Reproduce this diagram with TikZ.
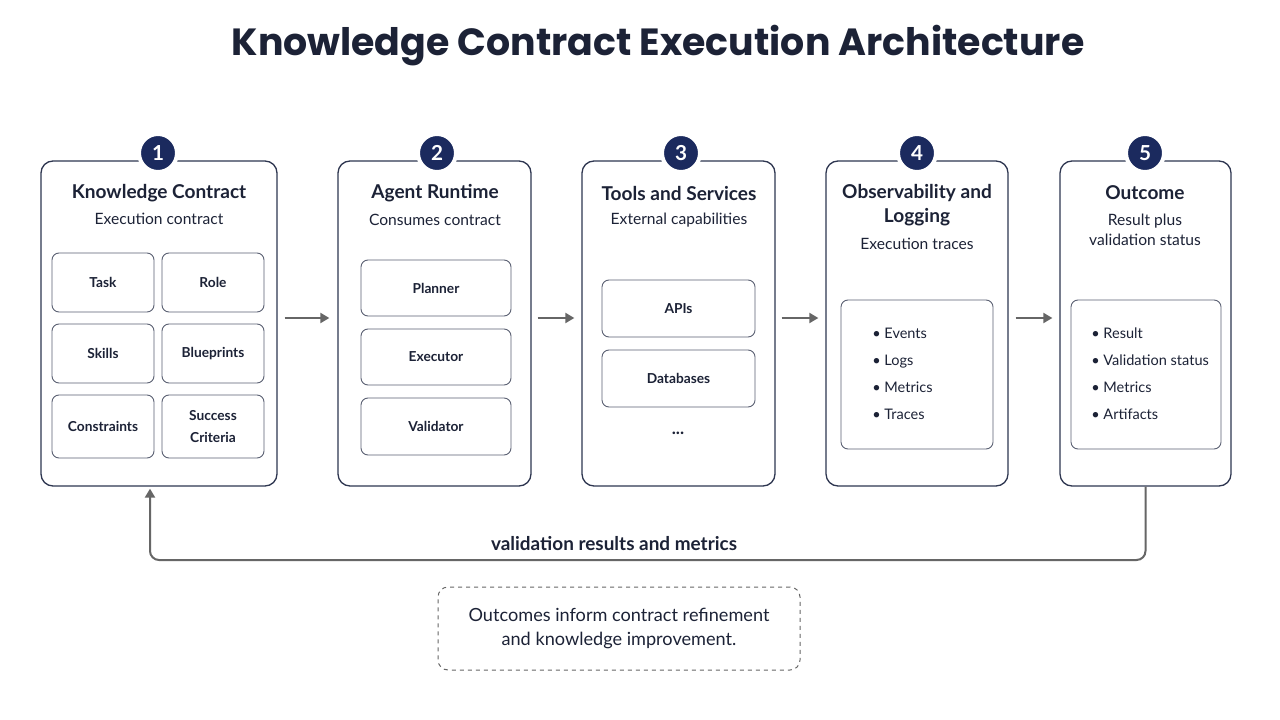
\documentclass[tikz,border=0pt]{standalone}
\usepackage{fontspec}
\setmainfont{Lato}
\newfontfamily\titlefont{Poppins}
\usetikzlibrary{arrows.meta,positioning}
\definecolor{ink}{HTML}{1C2236}
\definecolor{navy}{HTML}{1B2A5E}
\definecolor{edge}{HTML}{2E3650}
\definecolor{inner}{HTML}{5A6072}
\definecolor{arr}{HTML}{666666}
\def\u{0.75pt}
\tikzset{
  stage/.style={draw=edge, line width=1.3*\u, rounded corners=12*\u, fill=white, inner sep=0pt},
  item/.style={draw=inner, line width=0.9*\u, rounded corners=7*\u, fill=white, text=ink, font=\fontsize{10.3}{13}\selectfont\bfseries, align=center, inner sep=0pt},
  badge/.style={circle, fill=navy, draw=white, line width=4*\u, minimum size=38*\u, inner sep=0pt, text=white, font=\fontsize{15.5}{15}\selectfont\bfseries},
  stitle/.style={text=ink, font=\fontsize{14.3}{18}\selectfont\bfseries, align=center},
  ssub/.style={text=ink, font=\fontsize{11.7}{15}\selectfont, align=center},
  blist/.style={text=ink, font=\fontsize{10.9}{20.25}\selectfont, align=left, anchor=west, inner sep=0pt},
  flow/.style={draw=arr, line width=2*\u, -{Triangle[length=9*\u,width=10*\u]}},
}
\begin{document}
\begin{tikzpicture}[x=0.75pt,y=-0.75pt]
\useasboundingbox (0,0) rectangle (1280,720);
\fill[white] (0,0) rectangle (1280,720);

\node[text=ink, font=\titlefont\fontsize{28.4}{30}\selectfont\bfseries] (title) at (658,46) {Knowledge Contract Execution Architecture};

% stage boxes
\node[stage, minimum width=236*\u, minimum height=325*\u] (kc) at (159,323.5) {};
\node[stage, minimum width=193*\u, minimum height=325*\u] (ar) at (434.5,323.5) {};
\node[stage, minimum width=193*\u, minimum height=325*\u] (ts) at (678.5,323.5) {};
\node[stage, minimum width=182*\u, minimum height=325*\u] (ob) at (917,323.5) {};
\node[stage, minimum width=171*\u, minimum height=325*\u] (oc) at (1145.5,323.5) {};

% badges
\node[badge] (b1) at (158,153) {1};
\node[badge] (b2) at (437,153) {2};
\node[badge] (b3) at (681,153) {3};
\node[badge] (b4) at (917,153) {4};
\node[badge] (b5) at (1145,153) {5};

% titles
\node[stitle] (t1) at (159,193) {Knowledge Contract};
\node[ssub] (s1) at (159,219) {Execution contract};
\node[stitle] (t2) at (435,193) {Agent Runtime};
\node[ssub] (s2) at (435,220) {Consumes contract};
\node[stitle] (t3) at (679,193) {Tools and Services};
\node[ssub] (s3) at (679,220) {External capabilities};
\node[stitle] (t4) at (917,205) {Observability and\\Logging};
\node[ssub] (s4) at (917,244) {Execution traces};
\node[stitle] (t5) at (1145,193) {Outcome};
\node[ssub, font=\fontsize{11.7}{15}\selectfont] (s5) at (1145,230) {Result plus\\validation status};

% contract items
\node[item, minimum width=102*\u, minimum height=59*\u] (task) at (103,282.5) {Task};
\node[item, minimum width=102*\u, minimum height=59*\u] (role) at (213,282.5) {Role};
\node[item, minimum width=102*\u, minimum height=59*\u] (skills) at (103,353.5) {Skills};
\node[item, minimum width=102*\u, minimum height=59*\u] (blue) at (213,353.5) {Blueprints};
\node[item, minimum width=102*\u, minimum height=63*\u] (cons) at (103,426.5) {Constraints};
\node[item, minimum width=102*\u, minimum height=63*\u, font=\fontsize{10.3}{16}\selectfont\bfseries] (succ) at (213,426.5) {Success\\Criteria};

% runtime items
\node[item, minimum width=150*\u, minimum height=56*\u] (plan) at (436,288) {Planner};
\node[item, minimum width=150*\u, minimum height=56*\u] (exec) at (436,357) {Executor};
\node[item, minimum width=150*\u, minimum height=57*\u] (vali) at (436,426.5) {Validator};

% tools items
\node[item, minimum width=153*\u, minimum height=57*\u] (apis) at (678.5,308.5) {APIs};
\node[item, minimum width=153*\u, minimum height=57*\u] (dbs) at (678.5,378.5) {Databases};
\node[text=ink, font=\fontsize{13}{13}\selectfont\bfseries] (dots) at (678,433) {...};

% observability list
\node[item, minimum width=152*\u, minimum height=149*\u] (obl) at (917,374.5) {};
\node[blist] (obt) at (872,373.5) {\textbullet\ Events\\\textbullet\ Logs\\\textbullet\ Metrics\\\textbullet\ Traces};

% outcome list
\node[item, minimum width=150*\u, minimum height=149*\u] (ocl) at (1146,374.5) {};
\node[blist] (oct) at (1091,373.5) {\textbullet\ Result\\\textbullet\ Validation status\\\textbullet\ Metrics\\\textbullet\ Artifacts};

% flow arrows
\draw[flow] ([xshift=7*\u]kc.east |- 0,318) -- ([xshift=-8*\u]ar.west |- 0,318);
\draw[flow] ([xshift=6*\u]ar.east |- 0,318) -- ([xshift=-7*\u]ts.west |- 0,318);
\draw[flow] ([xshift=6*\u]ts.east |- 0,318) -- ([xshift=-7*\u]ob.west |- 0,318);
\draw[flow] ([xshift=7*\u]ob.east |- 0,318) -- ([xshift=-7*\u]oc.west |- 0,318);

% feedback loop
\coordinate (fbr) at (1145.5,560);
\coordinate (fbl) at (150,560);
\draw[flow, rounded corners=9*\u] (oc.south) -- (fbr) -- (fbl) -- ([xshift=-9*\u,yshift=-2*\u]kc.south);
\node[text=ink, font=\fontsize{14.2}{15}\selectfont\bfseries] (fblab) at (614,544) {validation results and metrics};

% note
\node[draw=arr, dashed, line width=1*\u, rounded corners=10*\u, minimum width=362*\u, minimum height=83*\u, text=ink, align=center, font=\fontsize{13.6}{17.5}\selectfont] (note) at (619,628.5) {Outcomes inform contract refinement\\and knowledge improvement.};
\end{tikzpicture}
\end{document}
